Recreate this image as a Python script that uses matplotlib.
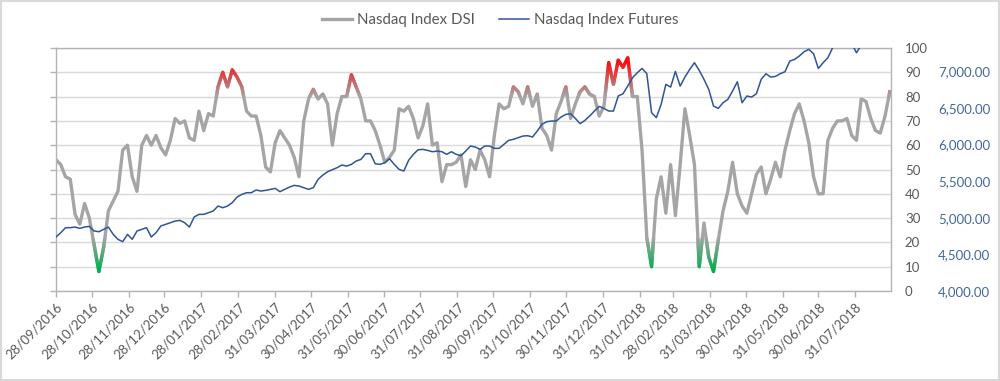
import numpy as np
import pandas as pd
import matplotlib
matplotlib.use('Agg')
import matplotlib.pyplot as plt
from matplotlib.patches import Rectangle
from matplotlib.lines import Line2D
from matplotlib.ticker import FuncFormatter

plt.rcParams['font.family'] = ['Lato', 'DejaVu Sans']

# values, one every 4 days from 28/09/2016
dsi = [54, 52, 47, 46, 31.5, 27.5, 36, 30, 19, 8, 18, 33, 37, 41, 58, 60, 47, 41, 60, 64,
       60, 64, 59, 56, 62, 71, 69, 70, 63, 62, 74, 66, 73, 72, 84, 90, 84, 91, 88, 84,
       74, 72, 72, 64,
       51, 49, 61, 66, 63, 60, 55, 47, 70, 79, 83, 79, 81, 77, 60, 73, 80, 80, 89, 84,
       79, 70, 70, 66, 60, 53, 55, 58, 75, 74, 76, 71, 63, 68, 77, 60, 61, 45, 52, 52,
       53, 56, 43, 54,
       50, 58, 54, 47, 64, 77, 75, 76, 84, 82, 77, 84, 76, 81, 67, 64, 58, 73, 78, 84,
       71, 77, 82, 84, 81, 80, 72, 76, 94, 85, 95, 92, 96, 80, 80, 58, 22, 10, 38, 47,
       32, 52, 31, 52,
       75, 64, 52, 10, 28, 14, 8, 21, 33, 41, 53, 40, 35, 32, 40, 48, 51, 40, 46, 53,
       47, 58, 66, 73, 77, 70, 61, 47, 40, 40, 62, 67, 70, 70, 71, 64, 62, 79, 78, 71,
       66, 65, 72, 82]

futures = [4738, 4797, 4865, 4865, 4874, 4856, 4874, 4883, 4820, 4810,
           4842, 4874, 4774, 4706, 4674, 4774, 4706, 4820, 4842, 4865,
           4738, 4797, 4888, 4910, 4933, 4956, 4965, 4933, 4874, 5011,
           5047, 5047, 5070, 5093, 5161, 5138, 5161, 5207, 5284, 5320,
           5343, 5343, 5380, 5366,
           5375, 5389, 5402, 5357, 5389, 5420, 5443, 5434, 5411, 5389,
           5411, 5525, 5584, 5630, 5657, 5685, 5721, 5707, 5730, 5776,
           5798, 5876, 5876, 5739, 5730, 5753, 5807, 5730, 5662, 5639,
           5785, 5867, 5930, 5935, 5921, 5903, 5912, 5903, 5867, 5903,
           5867, 5849, 5912, 5981,
           5967, 5935, 5981, 5981, 5949, 5949, 6003, 6058, 6072, 6094,
           6117, 6122, 6104, 6185, 6277, 6313, 6322, 6322, 6377, 6413,
           6422, 6358, 6286, 6331, 6390, 6459, 6522, 6495, 6459, 6459,
           6664, 6695, 6800, 6914, 6982, 7041, 6969, 6436, 6368, 6550,
           6823, 6786, 7000, 6800,
           6923, 7027, 7119, 7014, 6891, 6755, 6527, 6495, 6572, 6618,
           6732, 6859, 6572, 6664, 6650, 6695, 6891, 6969, 6923, 6932,
           6969, 6996, 7141, 7164, 7210, 7269, 7301, 7242, 7041, 7119,
           7187, 7324, 7380, 7400, 7420, 7380, 7255, 7360, 7400, 7420,
           7440, 7450, 7460, 7470]

tick_labels = ['28/09/2016', '28/10/2016', '28/11/2016', '28/12/2016', '28/01/2017',
               '28/02/2017', '31/03/2017', '30/04/2017', '31/05/2017', '30/06/2017',
               '31/07/2017', '31/08/2017', '30/09/2017', '31/10/2017', '30/11/2017',
               '31/12/2017', '31/01/2018', '28/02/2018', '31/03/2018', '30/04/2018',
               '31/05/2018', '30/06/2018', '31/07/2018']

dates = pd.date_range('2016-09-28', periods=len(dsi), freq='4D')
tick_dates = pd.to_datetime(tick_labels, format='%d/%m/%Y')

gray = np.array([0.647, 0.647, 0.647])
red = np.array([1.0, 0.05, 0.05])
green = np.array([0.0, 0.69, 0.31])
blue = '#2f5597'
text_col = '#595959'
axis_col = '#b3b3b3'

fig = plt.figure(figsize=(10, 3.81), dpi=100)
ax = fig.add_axes([0.056, 0.2362, 0.835, 0.6378])
ax2 = ax.twinx()

ax.set_xlim(dates[0], pd.Timestamp('2018-08-30'))
ax.set_ylim(0, 100)
ax.set_yticks(range(0, 101, 10))
ax.grid(axis='y', color='#d9d9d9', lw=1)
ax.set_axisbelow(True)
for s in ax.spines.values():
    s.set_color(axis_col)
    s.set_linewidth(1)

ax.set_xticks(tick_dates)
ax.set_xticklabels(tick_labels, rotation=45, ha='right', rotation_mode='anchor')
ax.tick_params(axis='x', length=4, width=1, color=axis_col, pad=3, labelsize=9.5,
               labelcolor=text_col)

# DSI line: gray, then coloured bands clipped by value (red on top, green at bottom)
ax.plot(dates, dsi, color=gray, lw=2.4, solid_joinstyle='round', zorder=2)
for lo in range(80, 96):
    hi = lo + 1 if lo < 95 else 110
    t = min(max((lo + 0.5 - 80) / 14.0, 0), 1)
    ln, = ax.plot(dates, dsi, color=gray + t * (red - gray), lw=2.4,
                  solid_joinstyle='round', zorder=2)
    ln.set_clip_path(Rectangle((0, lo), 1, hi - lo, transform=ax.get_yaxis_transform()))
for hi in range(22, 8, -1):
    lo = hi - 1 if hi > 9 else -10
    t = min(max((22 - (hi - 0.5)) / 13.0, 0), 1)
    ln, = ax.plot(dates, dsi, color=gray + t * (green - gray), lw=2.4,
                  solid_joinstyle='round', zorder=2)
    ln.set_clip_path(Rectangle((0, lo), 1, hi - lo, transform=ax.get_yaxis_transform()))

ax2.set_ylim(4000, 7320)
ax2.set_yticks(range(4000, 7001, 500))
ax2.yaxis.set_major_formatter(FuncFormatter(lambda v, p: '{:,.2f}'.format(v)))
ax2.tick_params(axis='y', length=0, pad=71.5, labelsize=9.5, labelcolor='#44679f')
plt.setp(ax2.get_yticklabels(), ha='right')
for s in ax2.spines.values():
    s.set_visible(False)
ax2.plot(dates, futures, color=blue, lw=1.1)

# DSI labels sit on the right, ticks stay on the left
ax.yaxis.set_ticks_position('left')
ax.tick_params(axis='y', left=True, right=False, labelleft=False, labelright=True,
               length=4, width=1, color=axis_col, pad=6, labelsize=9.5, labelcolor=text_col)

handles = [Line2D([], [], color=gray, lw=2.4), Line2D([], [], color=blue, lw=1.1)]
fig.legend(handles, ['Nasdaq Index DSI', 'Nasdaq Index Futures'], loc='center',
           bbox_to_anchor=(0.5, 0.947), ncol=2, frameon=False, fontsize=10.8,
           handlelength=2.0, handletextpad=0.35, columnspacing=1.6, labelcolor=text_col)

fig.patches.append(Rectangle((0.001, 0.002), 0.998, 0.996, transform=fig.transFigure,
                             fill=False, ec='#d9d9d9', lw=1.5))

fig.savefig('out.png', dpi=100)
